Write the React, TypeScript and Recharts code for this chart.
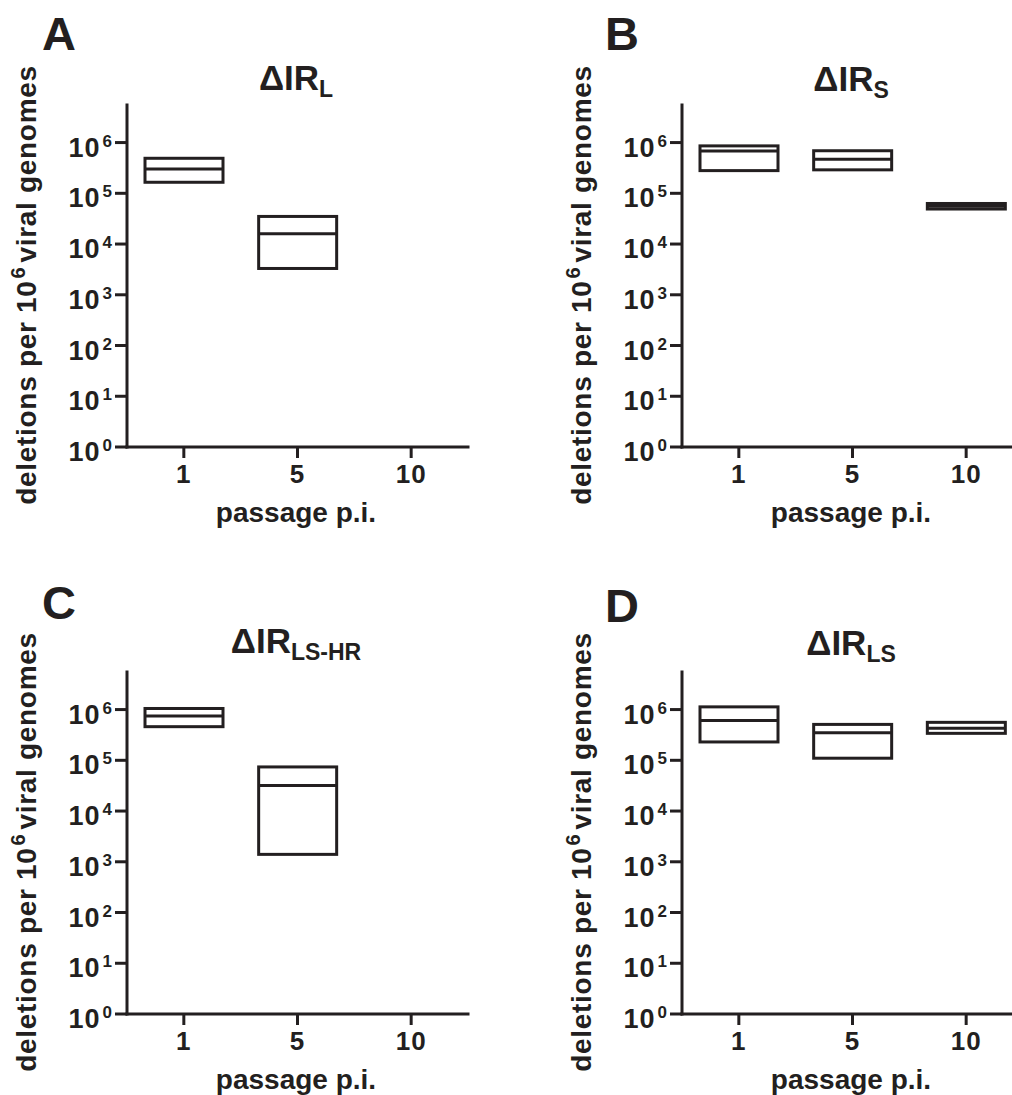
import React from 'react';
import { BarChart, Bar, XAxis, YAxis } from 'recharts';

const passages = ['1', '5', '10'];
const yTicks = [1, 10, 100, 1000, 10000, 100000, 1000000];

// [min, median, max] deletions per 10^6 genomes; null = nothing detected
const irL = [[1.65e5, 3.0e5, 4.9e5], [3.3e3, 1.6e4, 3.5e4], null];
const irS = [[2.8e5, 6.8e5, 8.6e5], [2.9e5, 4.7e5, 6.9e5], [4.9e4, 5.55e4, 6.3e4]];
const irLSHR = [[4.6e5, 7.5e5, 1.05e6], [1.4e3, 3.2e4, 7.4e4], null];
const irLS = [[2.3e5, 6.1e5, 1.13e6], [1.1e5, 3.5e5, 5.1e5], [3.4e5, 4.3e5, 5.6e5]];

const INK = '#231f20';
const FONT = '"Liberation Sans", Arial, sans-serif';

const toRows = (vals: (number[] | null)[]) =>
  passages.map((p, i) => {
    const v = vals[i];
    return { passage: p, range: v ? [v[0], v[2]] : null, median: v ? v[1] : null };
  });

const BoxShape = (props: any) => {
  const { x, y, width, height, payload } = props;
  if (!payload || !payload.range || !isFinite(y) || !isFinite(height)) return null;
  const [lo, hi] = payload.range;
  const top = Math.min(y, y + height);
  const h = Math.abs(height);
  const my = top + (h * (Math.log10(hi) - Math.log10(payload.median))) / (Math.log10(hi) - Math.log10(lo));
  return (
    <g>
      <rect x={x} y={top} width={width} height={h} fill="none" stroke={INK} strokeWidth={3} />
      <line x1={x} x2={x + width} y1={my} y2={my} stroke={INK} strokeWidth={3} />
    </g>
  );
};

const YTick = (props: any) => {
  const { x, y, payload } = props;
  const exp = Math.round(Math.log10(payload.value));
  return (
    <text x={x} y={y + 14} textAnchor="end" fill={INK} fontFamily={FONT} fontWeight="bold" fontSize={27} letterSpacing={1}>
      10
      <tspan dx={2} dy={-10} fontSize={17}>{exp}</tspan>
    </text>
  );
};

const XTick = (props: any) => {
  const { x, y, payload } = props;
  return (
    <text x={x} y={y + 25} textAnchor="middle" fill={INK} fontFamily={FONT} fontWeight="bold" fontSize={26} letterSpacing={1}>
      {payload.value}
    </text>
  );
};

type PanelProps = {
  left: number;
  top: number;
  letter: string;
  letterX: number;
  letterY: number;
  sub: string;
  titleY: number;
  values: (number[] | null)[];
};

function Panel({ left, top, letter, letterX, letterY, sub, titleY, values }: PanelProps) {
  const data = toRows(values);
  return (
    <div style={{ position: 'absolute', left, top, width: 500, height: 560 }}>
      <BarChart width={500} height={560} data={data} margin={{ top: 105, right: 32, bottom: 83, left: 0 }} barSize={78}>
        <XAxis
          dataKey="passage"
          height={30}
          interval={0}
          axisLine={{ stroke: INK, strokeWidth: 3, strokeLinecap: 'square' }}
          tickLine={{ stroke: INK, strokeWidth: 3 }}
          tickSize={11}
          tickMargin={0}
          tick={<XTick />}
        />
        <YAxis
          scale="log"
          type="number"
          domain={[1, 5.5e6]}
          allowDataOverflow
          ticks={yTicks}
          width={127}
          axisLine={{ stroke: INK, strokeWidth: 3, strokeLinecap: 'square' }}
          tickLine={{ stroke: INK, strokeWidth: 3 }}
          tickSize={12}
          tickMargin={2}
          tick={<YTick />}
        />
        <Bar dataKey="range" shape={<BoxShape />} isAnimationActive={false} />
      </BarChart>
      <svg width={500} height={560} style={{ position: 'absolute', left: 0, top: 0, pointerEvents: 'none' }}>
        <g fill={INK} fontFamily={FONT} fontWeight="bold">
          <text x={letterX} y={letterY} fontSize={47}>{letter}</text>
          <text x={296} y={titleY} textAnchor="middle" fontSize={35}>
            ΔIR
            <tspan dy={7} fontSize={23}>{sub}</tspan>
          </text>
          <text x={36} y={285} textAnchor="middle" fontSize={28} letterSpacing={0.7} transform="rotate(-90 36 285)">
            deletions per 10
            <tspan dx={2} dy={-11} fontSize={20}>6</tspan>
            <tspan dx={4} dy={11}>viral genomes</tspan>
          </text>
          <text x={296} y={522} textAnchor="middle" fontSize={28}>passage p.i.</text>
        </g>
      </svg>
    </div>
  );
}

export default function App() {
  return (
    <div style={{ position: 'absolute', left: 0, top: 0, width: 1012, height: 1095, overflow: 'hidden', background: '#fff' }}>
      <Panel left={0} top={0} letter="A" letterX={42} letterY={50} sub="L" titleY={90} values={irL} />
      <Panel left={555} top={0} letter="B" letterX={50} letterY={50} sub="S" titleY={91} values={irS} />
      <Panel left={0} top={567} letter="C" letterX={42} letterY={52} sub="LS-HR" titleY={86} values={irLSHR} />
      <Panel left={555} top={567} letter="D" letterX={50} letterY={55} sub="LS" titleY={88} values={irLS} />
    </div>
  );
}
